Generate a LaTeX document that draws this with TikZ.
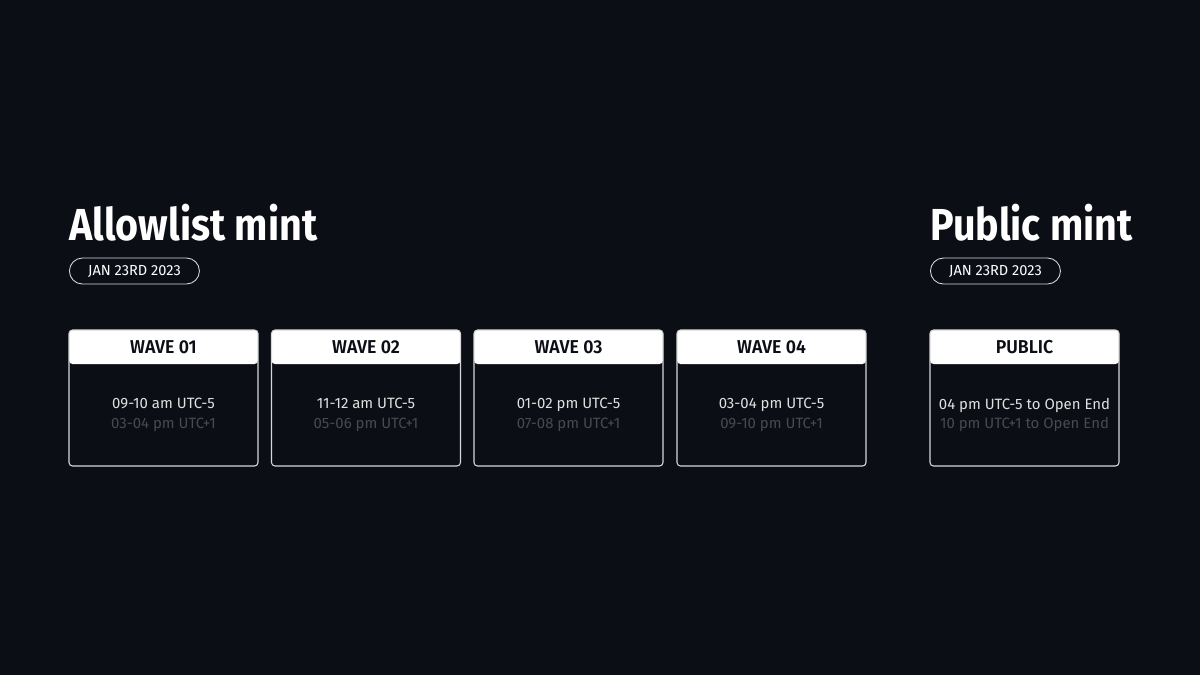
\documentclass[tikz,border=0pt]{standalone}
\usepackage{fontspec}
\setmainfont{Fira Sans}
\newfontfamily\titlefont[FakeStretch=0.88]{Fira Sans Bold}
\newfontfamily\headfont[FakeStretch=0.95]{Fira Sans SemiBold}
\usetikzlibrary{positioning}
\definecolor{bgdark}{HTML}{0C0E15}
\definecolor{faint}{HTML}{474A52}
\definecolor{edge}{HTML}{D8D8DA}

\begin{document}
\begin{tikzpicture}[
    title/.style = {anchor=base west, inner sep=0pt, text=white, font=\titlefont\fontsize{25.5}{30}\selectfont},
    pill/.style = {draw=edge, line width=0.5pt, rounded corners=0.26cm, minimum width=2.6cm, minimum height=0.52cm, inner sep=0pt, text=white, font=\fontsize{8.3}{10}\selectfont},
    wave/.style = {draw=edge, line width=0.6pt, rounded corners=2pt, minimum width=3.78cm, minimum height=2.72cm, inner sep=0pt,
        path picture={\fill[white] (path picture bounding box.north west) rectangle ([yshift=-0.68cm]path picture bounding box.north east);}},
    head/.style = {below=0pt, minimum height=0.68cm, inner sep=0pt, text=bgdark, font=\headfont\fontsize{10.6}{12}\selectfont},
    times/.style = {align=center, inner sep=0pt, text=white!88!black, font=\fontsize{8.5}{11.3}\selectfont}]
    % Background
    \fill[bgdark] (0,0) rectangle (24,-13.5);
    \useasboundingbox (0,0) rectangle (24,-13.5);

    % Titles
    \node[title] (allow) at (1.38, -4.8) {Allowlist mint};
    \node[title] (public) at (18.6, -4.8) {Public mint};
    \node[pill, anchor=west] (date1) at (1.38, -5.42) {JAN 23RD 2023};
    \node[pill, anchor=west] (date2) at (18.6, -5.42) {JAN 23RD 2023};

    % Boxes
    \node[wave] (w1) at (3.27, -7.96) {};
    \node[wave] (w2) at (7.32, -7.96) {};
    \node[wave] (w3) at (11.37, -7.96) {};
    \node[wave] (w4) at (15.43, -7.96) {};
    \node[wave] (pub) at (20.49, -7.96) {};

    % Headers
    \node[head] (h1) at (w1.north) {WAVE 01};
    \node[head] (h2) at (w2.north) {WAVE 02};
    \node[head] (h3) at (w3.north) {WAVE 03};
    \node[head] (h4) at (w4.north) {WAVE 04};
    \node[head] (h5) at (pub.north) {PUBLIC};

    % Times
    \node[times] (t1) at ([yshift=-0.34cm]w1.center) {09-10 am UTC-5\\\textcolor{faint}{03-04 pm UTC+1}};
    \node[times] (t2) at ([yshift=-0.34cm]w2.center) {11-12 am UTC-5\\\textcolor{faint}{05-06 pm UTC+1}};
    \node[times] (t3) at ([yshift=-0.34cm]w3.center) {01-02 pm UTC-5\\\textcolor{faint}{07-08 pm UTC+1}};
    \node[times] (t4) at ([yshift=-0.34cm]w4.center) {03-04 pm UTC-5\\\textcolor{faint}{09-10 pm UTC+1}};
    \node[times] (t5) at ([yshift=-0.34cm]pub.center) {04 pm UTC-5 to Open End\\\textcolor{faint}{10 pm UTC+1 to Open End}};

\end{tikzpicture}
\end{document}
